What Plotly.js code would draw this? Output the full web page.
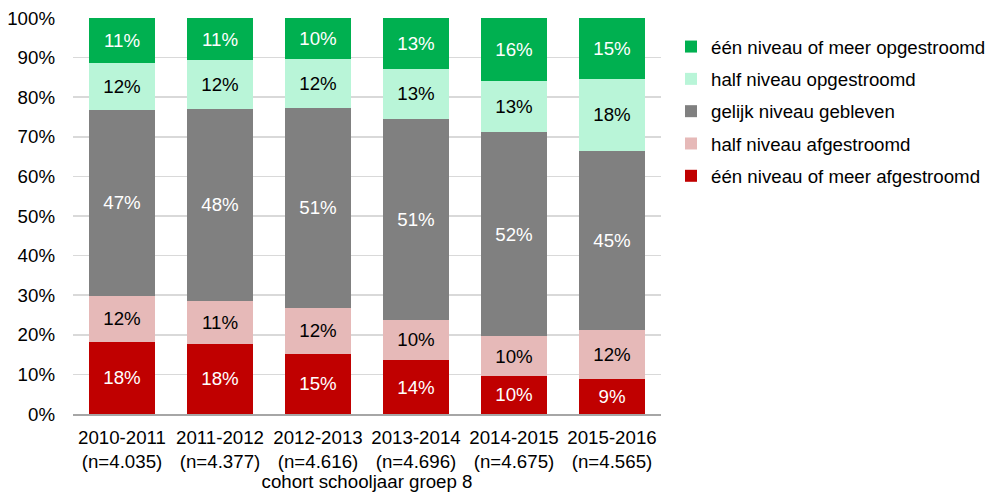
<!DOCTYPE html>
<html>
<head>
<meta charset="utf-8">
<script src="https://cdn.plot.ly/plotly-3.0.1.min.js"></script>
<style>html,body{margin:0;padding:0;background:#fff;}#chart{width:987px;height:492px;}</style>
</head>
<body>
<div id="chart"></div>
<script>
const categories = ["2010-2011<br>(n=4.035)", "2011-2012<br>(n=4.377)", "2012-2013<br>(n=4.616)", "2013-2014<br>(n=4.696)", "2014-2015<br>(n=4.675)", "2015-2016<br>(n=4.565)"];
const seriesNames = ["één niveau of meer afgestroomd", "half niveau afgestroomd", "gelijk niveau gebleven", "half niveau opgestroomd", "één niveau of meer opgestroomd"];
const eenAf   = [18.2, 17.8, 15.2, 13.6, 9.6, 8.9];
const halfAf  = [11.6, 10.8, 11.6, 10.2, 10.0, 12.4];
const gelijk  = [47.0, 48.4, 50.6, 50.8, 51.7, 45.2];
const halfOp  = [11.8, 12.3, 12.2, 12.6, 12.8, 18.1];
const eenOp   = [11.4, 10.7, 10.4, 12.8, 15.9, 15.4];
const yTickVals = [0,10,20,30,40,50,60,70,80,90,100];
const yTickText = ["0%","10%","20%","30%","40%","50%","60%","70%","80%","90%","100%"];

const seriesValues = [eenAf, halfAf, gelijk, halfOp, eenOp];
const colors = ["#C00000", "#E6B9B8", "#808080", "#B9F5D8", "#00B050"];
const textColors = ["#FFFFFF", "#000000", "#FFFFFF", "#000000", "#FFFFFF"];
const FONT = "Liberation Sans, Arial, sans-serif";
const FS = 18.7;

const data = seriesValues.map((vals, i) => ({
  type: "bar",
  name: seriesNames[i],
  x: categories,
  y: vals,
  legendgroup: "g" + i,
  legendrank: 10 - i,
  marker: {color: colors[i], line: {width: 0}},
  texttemplate: "%{y:.0f}%",
  textposition: "inside",
  insidetextanchor: "middle",
  textangle: 0,
  constraintext: "none",
  textfont: {family: FONT, size: FS, color: textColors[i]},
  hoverinfo: "skip"
}));

const layout = {
  width: 987, height: 492,
  margin: {l: 73, r: 326, t: 18, b: 78, autoexpand: false},
  barmode: "stack",
  bargap: 0.336,
  paper_bgcolor: "#fff",
  plot_bgcolor: "#fff",
  font: {family: FONT, size: FS, color: "#000"},
  showlegend: true,
  legend: {
    x: 1.017, xanchor: "left", xref: "paper",
    y: 0.975, yanchor: "top",
    traceorder: "grouped",
    tracegroupgap: 5,
    font: {family: FONT, size: FS, color: "#000"},
    bgcolor: "rgba(0,0,0,0)",
    itemclick: false
  },
  xaxis: {
    type: "category",
    tickfont: {family: FONT, size: FS, color: "#000"},
    showgrid: false,
    showline: true, linecolor: "#A6A6A6", linewidth: 1.5,
    ticks: "",
    ticklabelstandoff: 6,
    title: {text: "cohort schooljaar groep 8", font: {family: FONT, size: FS, color: "#000"}, standoff: 2}
  },
  yaxis: {
    range: [0, 100],
    tickvals: yTickVals,
    ticktext: yTickText,
    tickfont: {family: FONT, size: FS, color: "#000"},
    showgrid: true, gridcolor: "#D9D9D9", gridwidth: 1.5,
    zeroline: false,
    showline: false,
    ticks: "",
    ticklabelstandoff: 17,
    fixedrange: true
  }
};

Plotly.newPlot("chart", data, layout, {displayModeBar: false, staticPlot: true});
</script>
</body>
</html>
